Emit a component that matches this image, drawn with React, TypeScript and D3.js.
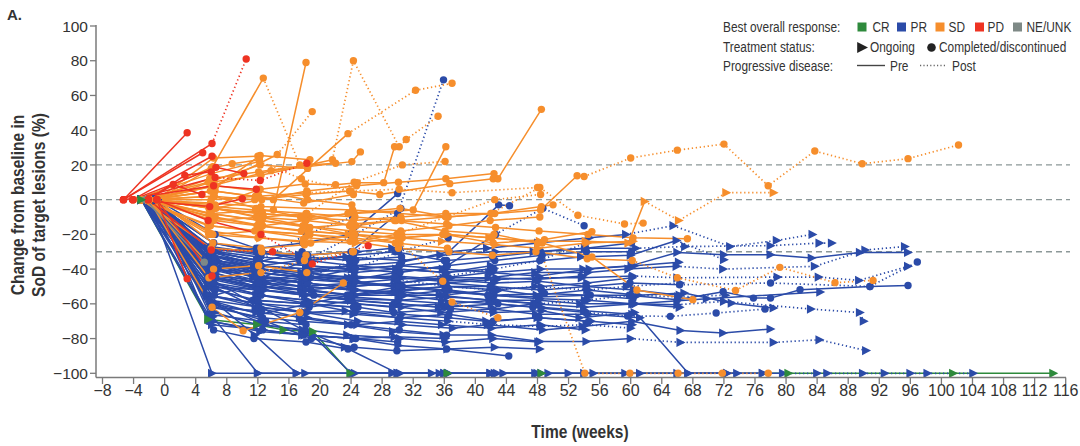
import React from 'react';
import * as d3 from 'd3';

type Pt = [number, number];
type Track = { s: 'o' | 'c'; pd: number; p: Pt[] };

const responseLabels = ['CR', 'PR', 'SD', 'PD', 'NE/UNK'];
const responseColors = ['#2e8a3c', '#2b4ba8', '#f68e2c', '#ee3322', '#7e8986'];
const xTickValues = d3.range(-8, 117, 4);
const yTickValues = d3.range(-100, 101, 20);
const referenceLines = [20, 0, -30];

const crTracks: Track[] = [
  { s: 'o', pd: -1, p: [[-3, 0], [5.6, -69], [11.9, -72], [15.3, -75], [19.1, -76], [23.9, -100], [36.4, -100], [48.5, -100], [80.3, -100], [101.5, -100], [114.4, -100]] },
];

const neTracks: Track[] = [
  { s: 'c', pd: -1, p: [[-2.5, 0], [5.1, -36]] },
];

const pdTracks: Track[] = [
  { s: 'c', pd: -1, p: [[-5.3, 0], [2.9, 38.5]] },
  { s: 'c', pd: 1, p: [[-5.3, 0], [6.1, 32.3], [10.5, 81]] },
  { s: 'c', pd: -1, p: [[-5.3, 0], [4.9, 27]] },
  { s: 'c', pd: -1, p: [[-4.1, 0], [6.1, 25]] },
  { s: 'c', pd: -1, p: [[-4.1, 0], [6.6, 18.6], [10.2, 15]] },
  { s: 'c', pd: 1, p: [[-4.1, 0], [6.5, 12.8], [12.3, 11], [18.3, 21]] },
  { s: 'c', pd: -1, p: [[-2.1, 0], [1.1, 8.7], [4.8, 3]] },
  { s: 'c', pd: -1, p: [[-2.1, 0], [2.6, 14], [6, 16]] },
  { s: 'c', pd: -1, p: [[-1, 0], [2.9, -45.5]] },
  { s: 'c', pd: -1, p: [[-1, 0], [6.1, -44]] },
  { s: 'c', pd: 1, p: [[-2.1, 0], [6, -29], [13.9, -30]] },
  { s: 'c', pd: 2, p: [[-1, 0], [5.6, -12], [12.4, -20], [19, -37], [26.2, -26.5]] },
  { s: 'c', pd: -1, p: [[-4.1, 0], [5.8, -4], [10, 0.5]] },
  { s: 'c', pd: -1, p: [[-5.3, 0], [6.3, 8], [11.8, 6]] },
];

const sdTracks: Track[] = [
  { s: 'c', pd: 2, p: [[-3, 0], [6.2, 19], [12.7, 70], [17.4, 20]] },
  { s: 'c', pd: -1, p: [[-2, 0], [5.8, -8], [14, -6], [18.2, 79]] },
  { s: 'c', pd: 2, p: [[-2, 0], [6.4, 8], [14.5, 26], [19, 50.7]] },
  { s: 'c', pd: 3, p: [[-1, 0], [5.9, 10], [12.4, 14], [21.6, 23], [24.3, 80], [30.2, 30.5], [31.1, 34.6], [35.2, 48]] },
  { s: 'c', pd: 3, p: [[-2, 0], [6.5, 5], [14, 0], [23.6, 38], [32.3, 63], [37, 67]] },
  { s: 'c', pd: -1, p: [[-1, 0], [5.7, -5], [12.1, -8], [18.6, -10], [24.4, -8], [32, -6], [36.2, 30.5]] },
  { s: 'c', pd: -1, p: [[-2, 0], [6.3, 2], [11.6, 0], [18.2, 3], [23.8, 5], [27.7, 3], [36.7, 9.2], [42.3, 12], [42.9, 12], [48.5, 52]] },
  { s: 'c', pd: 10, p: [[-2, 0], [6.1, -5], [12.6, -8], [17.5, -10], [24.3, -12], [30.4, -10], [36.2, -8], [42.5, -8], [48.4, -6], [53.1, 13.8], [54, 13.3], [60, 24], [66, 28.5], [72, 32], [77.7, 8], [83.7, 28], [89.8, 20.7], [95.7, 23.6], [102.2, 31.5]] },
  { s: 'o', pd: 11, p: [[-2, 0], [5.8, -10], [12.2, -15], [18.5, -18], [23.7, -20], [30.2, -22], [36.5, -20], [41.8, -22], [48.3, -24], [54.2, -24], [59.7, -25], [61.8, -1], [66.2, -12], [72.3, 4], [78.4, 4]] },
  { s: 'c', pd: 8, p: [[-2, 0], [6.4, -5], [11.8, -10], [18.1, -12], [24.6, -15], [29.6, -12], [36.1, -18], [42.4, -20], [48, -25], [54.1, -100], [59.9, -100], [66.1, -100], [71.8, -100], [77.7, -100]] },
  { s: 'c', pd: -1, p: [[-2, 0], [6, -8], [12.5, -12], [17.8, -15], [24.2, -18], [30.5, -20], [35.8, -20], [42.1, -22], [48.6, -25], [55, -33], [60.8, -52], [68, -57.6]] },
  { s: 'c', pd: 10, p: [[-3, 0], [5.6, -15], [12.3, -18], [18.7, -20], [23.9, -24], [30.1, -28], [36.6, -30], [42.2, -32], [47.8, -30], [54.4, -34], [60.2, -35], [66, -45], [73.5, -52.3], [79.2, -39], [86.3, -47.8], [91.2, -46.5]] },
  { s: 'c', pd: -1, p: [[-1, 0], [6.2, -4], [11.7, -6], [18.3, -8], [24.5, -10], [29.8, -12], [36.3, -14], [42.6, -16], [48.2, -18], [54.5, -20], [60.3, -22], [67.3, -22.5]] },
  { s: 'c', pd: 5, p: [[-2, 0], [6.6, -5], [12.2, -10], [18, -15], [24.1, -20], [30.3, -25], [35.8, -47], [37, -59], [42.9, -68]] },
  { s: 'c', pd: 5, p: [[-3, 0], [5.9, -2], [12.4, -4], [24.2, -6], [36.4, -10], [42, -8], [48.3, 7], [53.2, -9], [59.2, -14], [61.6, -13.5]] },
  { s: 'c', pd: -1, p: [[-2, 0], [6.3, -12], [11.9, -15], [17.6, -18], [24.4, -20], [30.6, -22], [36, -20], [42.3, -25], [48.9, -23], [55, -18.4]] },
  { s: 'c', pd: -1, p: [[-2, 0], [6.1, -62], [10.1, -75.5], [17.4, -65], [23, -48]] },
  { s: 'c', pd: -1, p: [[-3, 0], [5.6, 10], [12.3, 20], [18.4, 18]] },
  { s: 'c', pd: -1, p: [[-2, 0], [6.2, 5], [11.7, 2], [17.9, -2], [24.3, 3]] },
  { s: 'c', pd: -1, p: [[-3, 0], [6.5, -10], [12.6, -15], [18.2, -12], [23.6, -8], [30.3, -5], [36.5, -10]] },
  { s: 'c', pd: -1, p: [[-2, 0], [5.7, -20], [12, -22], [18.8, -25], [24.5, -20]] },
  { s: 'c', pd: 2, p: [[-4, 0], [6, 15], [12.2, 22], [17.6, 12], [24, 5]] },
  { s: 'c', pd: -1, p: [[-2, 0], [6.4, -5], [12.5, 0], [18.3, 5], [24.7, 8], [30.1, 10], [36.2, 12], [42.4, 15]] },
  { s: 'c', pd: -1, p: [[-3, 0], [5.9, -15], [11.6, -18], [18.6, -20], [24.2, -22], [29.7, -25], [36.4, -28]] },
  { s: 'c', pd: -1, p: [[-1, 0], [6.2, -25], [12.4, -28], [18, -26]] },
  { s: 'c', pd: -1, p: [[-2, 0], [5.8, 12], [12.1, 16], [18.5, 20], [22, 21]] },
  { s: 'c', pd: 3, p: [[-3, 0], [6.4, 2], [11.8, -5], [17.7, -10], [24.4, 10], [30.6, 20], [36.1, 22]] },
  { s: 'c', pd: -1, p: [[-2, 0], [6.1, -12], [12.7, -10], [18.2, -8], [23.8, -15], [30.4, -18], [36.6, -15], [41.9, -12], [48.3, -10]] },
  { s: 'o', pd: -1, p: [[-2, 0], [5.7, -18], [12.3, -22], [17.9, -24], [24.6, -25], [30.2, -22], [35.7, -24], [42.6, -26], [48.1, -28], [54.4, -25], [60.3, -24]] },
  { s: 'c', pd: -1, p: [[-2, 0], [6.6, 8], [12.1, 5], [18.4, 0], [24.1, -3]] },
  { s: 'c', pd: -1, p: [[-3, 0], [6, -28], [12.5, -30], [18.2, -32], [24.3, -30]] },
  { s: 'c', pd: -1, p: [[-1, 0], [6.3, 24], [12, 25]] },
  { s: 'c', pd: -1, p: [[-3, 0], [5.8, -8], [12.2, -12], [18.7, -16], [24, -14], [30.5, -12], [36.3, -10], [42.1, -8], [48.5, -4], [50, -3]] },
  { s: 'c', pd: 5, p: [[-2, 0], [6.2, -20], [11.9, -18], [18.1, -22], [24.5, -24], [29.9, -20], [36.2, -10], [42.5, 0], [48.4, 3]] },
  { s: 'c', pd: -1, p: [[-2, 0], [5.9, 5], [12.3, 25.4], [18.7, 23]] },
  { s: 'c', pd: -1, p: [[-3, 0], [6.1, 8], [13.7, 16.7], [24.1, 21.9], [25.2, 27.5]] },
  { s: 'c', pd: -1, p: [[-2, 0], [6.3, -40], [12.1, -38], [18.3, -42]] },
  { s: 'c', pd: 2, p: [[-2, 0], [5.7, -45], [12.4, -42], [18, -35], [24.2, -30]] },
  { s: 'c', pd: -1, p: [[-1, 0], [6, 18], [8.7, 20.7], [12.2, 23]] },
  { s: 'c', pd: -1, p: [[-2, 0], [6.5, -3], [12.3, 6], [18.1, 9], [22, 8.6], [24.8, 9.8], [28.2, 9.8], [29.6, 30.5]] },
  { s: 'c', pd: 3, p: [[-2, 0], [6, 0], [12.1, 2], [18.4, 4], [30.2, 6], [37, 4], [48, 7]] },
];

const prTracks: Track[] = [
  { s: 'o', pd: 15, p: [[-2, 0], [6.1, -100], [12, -100], [18.1, -100], [24.5, -100], [30.3, -100], [36.5, -100], [42.5, -100], [48.5, -100], [52, -100], [55.2, -100], [61.2, -100], [67.4, -100], [73.7, -100], [77, -100], [79.6, -100], [84, -100], [85.3, -100], [89.9, -100], [92.7, -100], [96, -100], [98.2, -100], [104.1, -100]] },
  { s: 'o', pd: -1, p: [[-1, 0], [6.2, -67.5], [12, -100], [17, -100], [24, -100], [29.3, -100], [35.4, -100], [41.9, -100], [47.7, -100], [54, -100], [59.3, -100], [66, -100], [72.4, -100]] },
  { s: 'o', pd: -1, p: [[-3, 0], [5.4, -55], [11.6, -78], [17, -100], [24.2, -100], [30, -100], [34.4, -100], [36, -100], [42, -100], [43.6, -100], [49.4, -100]] },
  { s: 'o', pd: -1, p: [[-2, 0], [6.8, -60], [12.9, -72], [18.6, -76], [24, -100], [30, -100], [36, -100]] },
  { s: 'o', pd: -1, p: [[-1, 0], [5.7, -45], [12.4, -62], [17.8, -75], [23.2, -85], [30, -100], [36.5, -100], [42.8, -100], [48, -100]] },
  { s: 'o', pd: -1, p: [[-2, 0], [6.4, -50], [11.8, -55], [18.4, -58], [24.6, -60], [30.5, -62], [35.6, -65], [42.3, -63], [47.8, -66], [54.6, -66], [61.2, -68], [67.4, -100], [72.4, -100], [77, -100]] },
  { s: 'c', pd: -1, p: [[-2, 0], [5.9, -60], [13, -70], [18.9, -80], [24.4, -85], [29.9, -87], [36.3, -86], [44.3, -90]] },
  { s: 'o', pd: 10, p: [[-1, 0], [6.3, -50], [11.7, -62], [17.4, -68], [23.6, -72], [29.4, -76], [35.9, -78], [42.1, -78], [48.3, -81.7], [54.3, -81.7], [60, -80], [66.4, -82.2], [78.4, -82.2], [84.3, -80.7], [90.3, -86.9]] },
  { s: 'o', pd: -1, p: [[-3, 0], [5.5, -55], [12.2, -60], [18.1, -65], [24.9, -70], [30.6, -72], [37.1, -74], [41.6, -72], [48.7, -75], [53.8, -73], [60.2, -70], [66.4, -75.3], [71.9, -76.8], [78, -74.5]] },
  { s: 'c', pd: 9, p: [[-2, 0], [6.9, -40], [12.6, -50], [19.2, -55], [23.8, -58], [29.5, -60], [36, -62], [42.9, -60], [47.4, -62], [54.2, -65], [59.6, -67], [65.1, -67.2], [71, -65.3], [77.3, -63]] },
  { s: 'o', pd: 11, p: [[-1, 0], [5.3, -35], [11.4, -45], [17.6, -50], [24.3, -52], [30.9, -55], [35.4, -55], [41.8, -58], [48.2, -58], [53.5, -60], [60.4, -60], [66, -60.5], [72, -58.6], [83.2, -63], [89.5, -65], [90, -70]] },
  { s: 'c', pd: -1, p: [[-2, 0], [6.6, -45], [12.3, -50], [18.8, -52], [23.5, -55], [30.2, -55], [36.6, -52], [42.4, -55], [48.9, -54], [54.8, -55], [59.8, -55], [66, -57.6], [71.9, -53], [75.8, -56.7], [78, -56.7], [81.8, -51.9], [90.8, -50], [95.7, -49.4]] },
  { s: 'o', pd: -1, p: [[-3, 0], [5.8, -40], [13.2, -48], [17.9, -50], [24.7, -52], [29.7, -53], [36.2, -50], [43.1, -52], [47.9, -55], [54.4, -52], [61, -55], [66.9, -53.8], [73, -59.6], [78.4, -62.4]] },
  { s: 'o', pd: -1, p: [[-2, 0], [6.2, -30], [11.9, -35], [18.3, -38], [24.1, -40], [30.4, -38], [35.8, -40], [42.2, -42], [48.4, -40], [53.9, -40], [60.1, -38], [66, -30.4], [72, -31.7], [78, -31.7], [83.3, -33.6], [89.5, -30.4], [95.7, -30.4]] },
  { s: 'o', pd: 10, p: [[-1, 0], [5.6, -28], [12.7, -30], [17.3, -32], [24.8, -30], [29.3, -28], [36.7, -30], [41.5, -28], [48.1, -25], [54.7, -22], [59.4, -20], [65.5, -15], [72.8, -27], [78.8, -23.5], [83.4, -20]] },
  { s: 'o', pd: 10, p: [[-2, 0], [6.7, -30], [12.1, -33], [18.6, -35], [23.4, -33], [30.7, -35], [35.5, -32], [42.6, -30], [47.5, -30], [54.1, -28], [60.7, -28], [67, -27], [78, -26.5], [84.3, -25], [85.9, -25]] },
  { s: 'o', pd: 11, p: [[-3, 0], [5.9, -32], [11.5, -38], [18.2, -40], [24.5, -42], [29.8, -40], [36.4, -42], [42, -38], [48.6, -35], [53.6, -33], [60, -32], [65.9, -23.5], [72, -34.6]] },
  { s: 'o', pd: 11, p: [[-2, 0], [6.1, -40], [12.8, -45], [17.7, -48], [23.9, -50], [30.3, -48], [36.9, -45], [41.7, -45], [47.7, -42], [54.5, -42], [59.7, -40], [65.9, -38.4], [71.9, -40], [83.7, -38.4], [90.2, -29], [95.3, -27]] },
  { s: 'o', pd: 10, p: [[-1, 0], [5.4, -35], [12, -42], [18.9, -45], [24.2, -48], [29.6, -50], [35.9, -48], [42.8, -46], [48.3, -45], [53.7, -45], [60.3, -44], [66, -45], [78.9, -44.6], [84.2, -44.6], [89.4, -46.5], [95.7, -38.4]] },
  { s: 'c', pd: 11, p: [[-2, 0], [6.5, -42], [11.6, -50], [17.5, -52], [23.7, -55], [30.1, -52], [36.3, -50], [41.9, -50], [48.5, -52], [54.3, -50], [59.9, -48], [66.3, -49], [78, -48], [90.8, -50], [96.9, -35.9]] },
  { s: 'o', pd: -1, p: [[-3, 0], [6, -48], [12.5, -55], [18.4, -58], [24.6, -60], [29.4, -62], [35.7, -60], [42.5, -63], [47.6, -60], [54, -62], [60.6, -60], [69.8, -57], [84.4, -53.2]] },
  { s: 'o', pd: -1, p: [[-2, 0], [5.7, -55], [12.2, -62], [17.8, -65], [23.3, -64], [30.6, -66], [36.5, -68], [41.4, -70], [48, -68], [54.9, -70], [60.2, -72]] },
  { s: 'c', pd: -1, p: [[-2, 0], [6.3, -25], [11.8, -30], [18.5, -35], [24.4, -38], [29.9, -40], [36.1, -42], [42.1, -40]] },
  { s: 'o', pd: -1, p: [[-1, 0], [6.8, -35], [12.4, -40], [17.6, -42], [23.6, -45], [30.5, -45], [35.6, -47], [42.7, -45], [47.8, -46], [53.8, -44]] },
  { s: 'c', pd: -1, p: [[-3, 0], [5.5, -50], [11.3, -58], [18.7, -60], [24.9, -62], [29.5, -65], [36.8, -63]] },
  { s: 'o', pd: -1, p: [[-2, 0], [6.2, -45], [12.9, -52], [18.1, -55], [24, -58], [30.2, -60], [35.3, -62], [42.4, -65], [48.6, -64], [53.4, -68], [60.5, -65]] },
  { s: 'c', pd: -1, p: [[-2, 0], [5.8, -30], [12.3, -38], [17.4, -35], [24.3, -32], [29.7, -30], [36, -35]] },
  { s: 'o', pd: -1, p: [[-3, 0], [6.4, -65], [12, -72], [18.3, -75], [23.5, -78], [30.3, -80], [36.2, -82], [42.3, -80], [48.1, -82]] },
  { s: 'c', pd: -1, p: [[-1, 0], [5.6, -70], [12.6, -75], [17.9, -78], [24.6, -80], [30, -82]] },
  { s: 'o', pd: 5, p: [[-2, 0], [6.1, -38], [11.7, -42], [18.8, -45], [24.2, -48], [29.6, -46], [36.4, -50], [42.6, -52], [47.7, -50], [54.6, -52], [59.5, -50], [66.4, -48]] },
  { s: 'c', pd: -1, p: [[-2, 0], [6.6, -35], [12.2, -40], [18, -42], [23.8, -38]] },
  { s: 'c', pd: -1, p: [[-1, 0], [5.9, -32], [11.9, -36], [17.7, -30]] },
  { s: 'c', pd: 3, p: [[-3, 0], [6.3, -40], [12.5, -45], [18.2, -35], [24.5, -20], [30.4, -5]] },
  { s: 'c', pd: -1, p: [[-2, 0], [5.7, -55], [12.1, -60], [18.6, -62], [24.1, -58]] },
  { s: 'o', pd: -1, p: [[-2, 0], [6.2, -60], [11.8, -65], [18.4, -68], [24.8, -72], [30.1, -70], [35.7, -72], [42.1, -74], [48.4, -72], [54.2, -75]] },
  { s: 'c', pd: -1, p: [[-1, 0], [6.5, -45], [12.7, -48], [17.6, -50], [24.3, -48], [30.6, -50], [36.1, -52], [41.6, -55], [48.2, -56], [54.5, -55], [60.3, -57]] },
  { s: 'o', pd: -1, p: [[-3, 0], [5.9, -50], [12.3, -52], [18.1, -55], [23.7, -57], [30.2, -58], [36.6, -60], [42.4, -58], [47.9, -60]] },
  { s: 'c', pd: -1, p: [[-2, 0], [6, -28], [12.4, -32]] },
  { s: 'c', pd: -1, p: [[-2, 0], [6.4, -36], [11.6, -40], [18.5, -44], [24.4, -46], [29.8, -42], [36.3, -38], [42.5, -35], [48.6, -32], [54.3, -30], [60.1, -30]] },
  { s: 'o', pd: -1, p: [[-1, 0], [5.8, -42], [12.2, -48], [17.9, -52], [24.1, -50], [30, -48], [35.9, -45], [41.8, -42], [48.2, -44], [54.7, -40], [60.5, -38], [66.2, -36]] },
  { s: 'c', pd: 7, p: [[-3, 0], [6.1, -30], [11.9, -35], [18.2, -38], [24.5, -40], [30.3, -42], [36.4, -38], [42.6, -20], [48.7, -5], [54, -15]] },
  { s: 'c', pd: 5, p: [[-2, 0], [6.3, -25], [12.5, -30], [18.4, -32], [24, -30], [30, -8], [35.9, 69]] },
  { s: 'c', pd: -1, p: [[-2, 0], [5.7, -30], [12.1, -28], [17.8, -25], [23.9, -20], [30, 3.5]] },
  { s: 'c', pd: -1, p: [[-1, 0], [6, -35], [12.4, -38], [18.6, -40], [24.2, -38], [30.5, -36], [36.6, -30], [43, -3], [44.4, -3.5]] },
  { s: 'c', pd: 6, p: [[-2, 0], [6.2, -40], [11.8, -42], [17.7, -45], [24.4, -44], [29.8, -46], [36.2, -44], [42.4, -40], [48.3, -35], [54.2, -25]] },
  { s: 'o', pd: -1, p: [[-3, 0], [5.6, -45], [12.3, -50], [18.3, -52], [24.6, -55], [30.4, -53], [35.8, -55], [42.2, -52], [48.5, -50], [54.4, -48], [60.2, -45]] },
  { s: 'c', pd: -1, p: [[-2, 0], [6.1, -62], [12.6, -68], [17.6, -70], [24, -72], [30.2, -75], [36.3, -78]] },
  { s: 'o', pd: 6, p: [[-1, 0], [5.9, -58], [12.2, -62], [18.5, -65], [24.3, -66], [30.4, -68], [36.5, -70], [42, -72], [48.4, -73], [54.3, -72], [60, -74]] },
  { s: 'c', pd: -1, p: [[-2, 0], [6.3, -75], [11.5, -80], [18.2, -82], [23.6, -86]] },
  { s: 'c', pd: -1, p: [[-2, 0], [5.8, -48], [12.4, -55], [18.6, -60], [24.5, -65], [30.3, -68], [36.6, -66], [42.3, -70], [48.2, -68], [54.6, -70]] },
  { s: 'c', pd: -1, p: [[-3, 0], [6.2, -38], [12.3, -40]] },
  { s: 'c', pd: -1, p: [[-1, 0], [5.7, -44], [11.9, -46], [18.4, -48]] },
  { s: 'c', pd: -1, p: [[-2, 0], [6.5, -52], [12, -58], [17.9, -60], [24.3, -62]] },
  { s: 'o', pd: -1, p: [[-2, 0], [6.2, -32], [12.6, -38], [18.3, -42], [24.1, -45], [29.7, -44], [36, -46], [42.4, -48], [48.1, -47], [54.3, -50], [60.4, -52], [66.3, -55]] },
  { s: 'c', pd: 4, p: [[-3, 0], [6, -35], [12.2, -42], [18.7, -45], [24.4, -40], [30.1, -30], [36.5, -22]] },
  { s: 'o', pd: -1, p: [[-1, 0], [6.4, -40], [11.7, -44], [18.1, -46], [24.6, -48], [30.2, -50], [36.3, -48], [42.2, -50]] },
  { s: 'c', pd: -1, p: [[-2, 0], [5.9, -27], [12.3, -31], [18.4, -33], [23.8, -35], [30.5, -33]] },
  { s: 'o', pd: 8, p: [[-2, 0], [6.1, -46], [12.5, -52], [17.8, -54], [24.2, -56], [30.1, -58], [36.4, -56], [42.6, -58], [48.3, -60], [54.1, -58], [60.3, -55], [66.1, -56], [72.2, -55]] },
  { s: 'c', pd: -1, p: [[-3, 0], [5.6, -66], [12.4, -70], [18.2, -72]] },
  { s: 'o', pd: -1, p: [[-2, 0], [6.3, -36], [12, -44], [18.5, -48], [24.4, -52], [30.6, -55], [35.8, -58], [42.1, -60], [48.5, -62], [54, -64], [60.2, -66]] },
  { s: 'o', pd: -1, p: [[-1, 0], [6.2, -70], [12.3, -76], [18, -78], [24.3, -80], [30.1, -84], [36.4, -86], [42.5, -85], [48.3, -86]] },
  { s: 'c', pd: 2, p: [[-2, 0], [5.8, -30], [12.2, -35], [18.3, -20], [24.2, -10]] },
  { s: 'c', pd: -1, p: [[-2, 0], [6.4, -55], [12.1, -48], [18.6, -42], [24.5, -40], [30.2, -38], [36.3, -35], [42.2, -33], [48.4, -30], [54.2, -28], [60.1, -25]] },
  { s: 'c', pd: -1, p: [[-1, 0], [6.5, -20], [11.8, -28]] },
  { s: 'c', pd: -1, p: [[-2, 0], [5.5, -38]] },
  { s: 'o', pd: -1, p: [[-3, 0], [6.1, -72], [12.7, -75], [17.7, -78], [24.5, -80], [29.6, -79], [36.1, -80]] },
  { s: 'c', pd: -1, p: [[-2, 0], [5.8, -58], [12.3, -66], [18.6, -60], [23.8, -55], [30.4, -50]] },
  { s: 'o', pd: -1, p: [[-1, 0], [6.6, -33], [12.1, -40], [18.2, -44], [24.7, -47], [30.2, -50], [36.4, -53], [41.9, -55], [48.3, -57], [54.5, -58], [60.2, -60], [66.3, -62]] },
  { s: 'c', pd: -1, p: [[-2, 0], [6, -62], [12.5, -64]] },
  { s: 'c', pd: 3, p: [[-3, 0], [6.3, -48], [11.9, -52], [18.1, -45], [24.6, -35], [30.2, -28]] },
];

const W = 1080;
const H = 446;
const FONT = "'Liberation Sans', Arial, Helvetica, sans-serif";
const TEXT = '#333333';
const AXIS = '#7a7a7a';

const x = d3.scaleLinear().domain([-8, 116]).range([102.5, 1065.7]);
const y = d3.scaleLinear().domain([-100, 100]).range([373.3, 26]);
const lineGen = d3.line<Pt>().x((d) => x(d[0])).y((d) => y(d[1]));

const groups: { tracks: Track[]; color: number }[] = [
  { tracks: crTracks, color: 0 },
  { tracks: prTracks, color: 1 },
  { tracks: sdTracks, color: 2 },
  { tracks: neTracks, color: 4 },
  { tracks: pdTracks, color: 3 },
];
const markerOrder = [1, 2, 4, 3, 0];

const triPath = 'M-4,-4.6L5,0L-4,4.6Z';

function Marker({ cx, cy, shape, color }: { cx: number; cy: number; shape: 'o' | 'c'; color: string }) {
  if (shape === 'o') return <path d={triPath} transform={`translate(${cx},${cy})`} fill={color} />;
  return <circle cx={cx} cy={cy} r={3.7} fill={color} />;
}

function TrackLines({ t, color }: { t: Track; color: string }) {
  const solid = t.pd >= 0 ? t.p.slice(0, t.pd + 1) : t.p;
  const dotted = t.pd >= 0 ? t.p.slice(t.pd) : [];
  return (
    <g>
      {solid.length > 1 && <path d={lineGen(solid) || ''} fill="none" stroke={color} strokeWidth={1.5} strokeLinejoin="round" />}
      {dotted.length > 1 && (
        <path d={lineGen(dotted) || ''} fill="none" stroke={color} strokeWidth={1.7} strokeDasharray="1.3 2.7" />
      )}
    </g>
  );
}

function Legend() {
  const sx = 0.86;
  const T = ({ x0, y0, children }: { x0: number; y0: number; children: React.ReactNode }) => (
    <text transform={`translate(${x0},${y0}) scale(${sx},1)`} fontSize={13.8} fill={TEXT}>
      {children}
    </text>
  );
  const swX = [857.5, 897, 935.5, 975, 1013];
  const txX = [872.5, 910.5, 948.5, 987.5, 1026.5];
  return (
    <g fontFamily={FONT}>
      <T x0={723} y0={32}>Best overall response:</T>
      <T x0={723} y0={52}>Treatment status:</T>
      <T x0={723} y0={71}>Progressive disease:</T>
      {responseLabels.map((lab, i) => (
        <g key={lab}>
          <rect x={swX[i]} y={22.5} width={9} height={9} fill={responseColors[i]} />
          <T x0={txX[i]} y0={32}>{lab}</T>
        </g>
      ))}
      <path d={triPath} transform="translate(862,47.5) scale(1.2)" fill="#222" />
      <T x0={870} y0={52}>Ongoing</T>
      <circle cx={931.5} cy={47.5} r={4.3} fill="#222" />
      <T x0={939} y0={52}>Completed/discontinued</T>
      <line x1={857} x2={885} y1={65.5} y2={65.5} stroke="#444" strokeWidth={1.4} />
      <T x0={890} y0={71}>Pre</T>
      <line x1={920} x2={946} y1={65.5} y2={65.5} stroke="#666" strokeWidth={1.3} strokeDasharray="1.2 2.2" />
      <T x0={952} y0={71}>Post</T>
    </g>
  );
}

export default function App() {
  return (
    <svg width={W} height={H} style={{ position: 'absolute', left: 0, top: 0, background: '#fff' }} fontFamily={FONT}>
      <rect width={W} height={H} fill="#fff" />
      {referenceLines.map((v) => (
        <line key={v} x1={96} x2={1070} y1={y(v)} y2={y(v)} stroke="#8c9898" strokeWidth={1.4} strokeDasharray="6 4" />
      ))}
      {groups.map((g) =>
        g.tracks.map((t, i) => <TrackLines key={`${g.color}-${i}`} t={t} color={responseColors[g.color]} />)
      )}
      {markerOrder.map((ci) => {
        const g = groups.find((gg) => gg.color === ci)!;
        return g.tracks.map((t, i) => (
          <g key={`m${ci}-${i}`}>
            {t.p.map((pt, j) => (
              <Marker key={j} cx={x(pt[0])} cy={y(pt[1])} shape={t.s} color={responseColors[ci]} />
            ))}
          </g>
        ));
      })}
      <line x1={96} x2={96} y1={25} y2={377.5} stroke={AXIS} strokeWidth={1.5} />
      {yTickValues.map((v) => (
        <g key={v}>
          <line x1={90} x2={96} y1={y(v)} y2={y(v)} stroke={AXIS} strokeWidth={1.3} />
          <text x={88} y={y(v)} dy="0.36em" textAnchor="end" fontSize={15.5} fill={TEXT}>
            {v < 0 ? `\u2212${Math.abs(v)}` : v}
          </text>
        </g>
      ))}
      <line x1={96} x2={1066} y1={377.5} y2={377.5} stroke={AXIS} strokeWidth={1.5} />
      {xTickValues.map((v) => (
        <g key={v}>
          <line x1={x(v)} x2={x(v)} y1={377.5} y2={384} stroke={AXIS} strokeWidth={1.3} />
          <text x={x(v)} y={396} textAnchor="middle" fontSize={16} fill={TEXT}>
            {v < 0 ? `\u2212${Math.abs(v)}` : v}
          </text>
        </g>
      ))}
      <text transform="translate(580,438) scale(0.84,1)" textAnchor="middle" fontSize={18.5} fontWeight="bold" fill={TEXT}>
        Time (weeks)
      </text>
      <g transform="translate(24,205) rotate(-90)">
        <text transform="scale(0.84,1)" textAnchor="middle" fontSize={18.5} fontWeight="bold" fill={TEXT}>
          Change from baseline in
        </text>
      </g>
      <g transform="translate(45,205) rotate(-90)">
        <text transform="scale(0.84,1)" textAnchor="middle" fontSize={18.5} fontWeight="bold" fill={TEXT}>
          SoD of target lesions (%)
        </text>
      </g>
      <text x={7} y={20} fontSize={15} fontWeight="bold" fill={TEXT}>
        A.
      </text>
      <Legend />
    </svg>
  );
}
